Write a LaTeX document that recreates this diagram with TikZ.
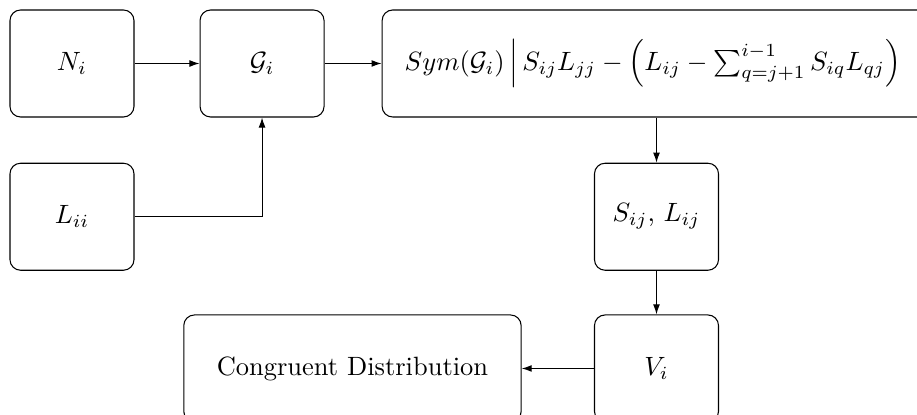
\documentclass[tikz,border=0pt]{standalone}
\usepackage{amsmath, amssymb}
\usetikzlibrary{arrows.meta, positioning}

\begin{document}
\begin{tikzpicture}[
  node distance=6mm,
  every node/.style={font=\normalsize},
  block/.style={draw, rounded corners=4pt, minimum width=16.47mm, minimum height=14.21mm},
  wideblock/.style={block, text width=68mm, inner xsep=8.5pt, align=left},
  flow/.style={-{Latex[length=3.8pt, width=2.6pt]}}
]
  \useasboundingbox (0,0) rectangle (12.178,-5.511);
  \clip (0,0) rectangle (12.178,-5.511);

  \node[block] (N) at (0.956,-0.843) {$N_i$};
  \node[block, right=8.63mm of N] (G) {$\mathcal{G}_i$};
  \node[wideblock, right=7.57mm of G] (sym)
    {$Sym(\mathcal{G}_i)\,\Big|\,S_{ij}L_{jj} - \left(L_{ij} - \sum_{q=j+1}^{i-1} S_{iq}L_{qj}\right)$};
  \node[block, below=of N] (L) {$L_{ii}$};
  \node[block, below=of sym.south, xshift=-0.55mm] (S) {$S_{ij}$, $L_{ij}$};
  \node[block, below=5.8mm of S] (V) {$V_i$};
  \node[block, left=9.6mm of V, minimum width=44.8mm] (cong) {Congruent Distribution};

  \draw[flow] (N) -- (G);
  \draw[flow] (G) -- (sym);
  \draw[flow] (L) -| (G);
  \draw[flow] (sym.south -| S) -- (S);
  \draw[flow] (S) -- (V);
  \draw[flow] (V) -- (cong);
\end{tikzpicture}
\end{document}
